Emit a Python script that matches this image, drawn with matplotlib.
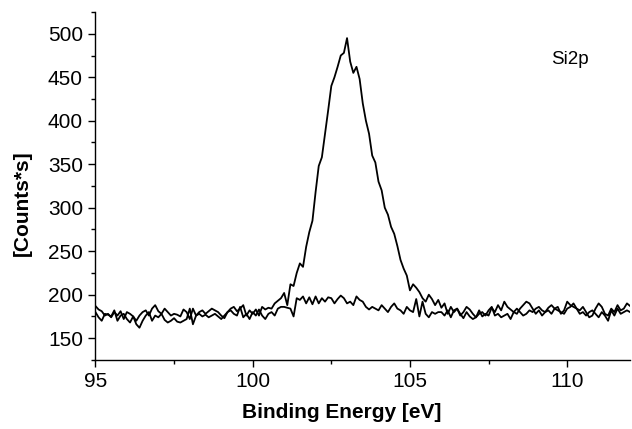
import numpy as np
import matplotlib
matplotlib.use("Agg")
import matplotlib.pyplot as plt
from matplotlib.ticker import MultipleLocator

plt.rcParams['font.family'] = ['Liberation Sans', 'DejaVu Sans']

# binding energy grid, 0.1 eV steps
energy = np.round(np.arange(95.0, 112.05, 0.1), 1)

# Si2p spectrum with oxide peak
counts_a = [
    187, 183, 181, 176, 178, 174, 180, 176, 181, 172,
    180, 178, 175, 170, 176, 180, 182, 176, 184, 188,
    181, 178, 184, 180, 176, 178, 177, 175, 183, 180,
    172, 184, 176, 180, 182, 178, 181, 184, 182, 180,
    176, 173, 180, 184, 186, 181, 184, 188, 176, 182,
    178, 183, 176, 186, 183, 185, 184, 190, 193, 196,
    202, 188, 212, 210, 225, 236, 232, 255, 272, 285,
    318, 348, 358, 385, 412, 440, 450, 462, 475, 478,
    495, 468, 455, 462, 448, 420, 400, 385, 360, 352,
    330, 320, 300, 292, 278, 270, 256, 240, 230, 222,
    205, 212, 208, 203, 196, 192, 200, 195, 188, 194,
    185, 190, 178, 186, 180, 184, 176, 180, 186, 183,
    178, 174, 182, 175, 178, 176, 185, 180, 188, 182,
    192, 186, 183, 180, 178, 184, 188, 192, 190, 184,
    178, 182, 176, 180, 185, 188, 184, 186, 178, 182,
    192, 188, 186, 184, 182, 186, 180, 174, 176, 184,
    190, 186, 178, 176, 184, 180, 188, 182, 184, 190,
    187,
]

# Si2p spectrum, flat
counts_b = [
    180, 174, 170, 178, 177, 175, 182, 170, 176, 178,
    172, 168, 175, 166, 162, 170, 176, 180, 170, 176,
    174, 178, 171, 168, 170, 173, 169, 168, 170, 172,
    184, 166, 176, 178, 175, 177, 174, 176, 178, 175,
    172, 176, 180, 182, 178, 176, 186, 174, 178, 172,
    180, 176, 183, 176, 172, 178, 180, 176, 184, 186,
    186, 185, 184, 175, 196, 194, 198, 190, 197, 189,
    198, 190, 196, 192, 197, 196, 190, 195, 199, 196,
    190, 192, 188, 198, 194, 192, 186, 183, 186, 184,
    182, 188, 184, 180, 186, 190, 184, 182, 178, 186,
    182, 180, 195, 175, 192, 178, 174, 180, 178, 180,
    180, 176, 182, 174, 182, 184, 178, 173, 180, 175,
    172, 174, 178, 180, 176, 182, 186, 176, 178, 174,
    176, 178, 172, 180, 184, 180, 176, 178, 182, 180,
    184, 186, 182, 180, 182, 178, 184, 182, 180, 178,
    184, 186, 190, 184, 178, 180, 176, 180, 182, 178,
    174, 180, 176, 170, 182, 176, 184, 178, 180, 182,
    180,
]

fig = plt.figure(figsize=(6.32, 4.29), dpi=100)
ax = fig.add_axes([0.151, 0.161, 0.846, 0.811])

ax.plot(energy, counts_a, color='black', lw=1.3)
ax.plot(energy, counts_b, color='black', lw=1.3)

ax.set_xlim(95, 112)
ax.set_ylim(125, 525)
ax.xaxis.set_major_locator(MultipleLocator(5))
ax.xaxis.set_minor_locator(MultipleLocator(2.5))
ax.yaxis.set_major_locator(MultipleLocator(50))
ax.yaxis.set_minor_locator(MultipleLocator(25))
ax.set_yticks(range(150, 501, 50))

for s in ['top', 'right']:
    ax.spines[s].set_visible(False)
ax.spines['left'].set_linewidth(1.0)
ax.spines['bottom'].set_linewidth(1.0)
ax.tick_params(which='major', direction='out', length=5, width=1, labelsize=15, pad=4)
ax.tick_params(which='minor', direction='out', length=3, width=1)

ax.set_xlabel('Binding Energy [eV]', fontsize=15, fontweight='bold')
ax.set_ylabel('[Counts*s]', fontsize=15, fontweight='bold')
ax.xaxis.set_label_coords(0.461, -0.125)
ax.yaxis.set_label_coords(-0.118, 0.45)
ax.text(109.5, 470, 'Si2p', fontsize=13.5, va='center')

fig.savefig('out.png', dpi=100)
